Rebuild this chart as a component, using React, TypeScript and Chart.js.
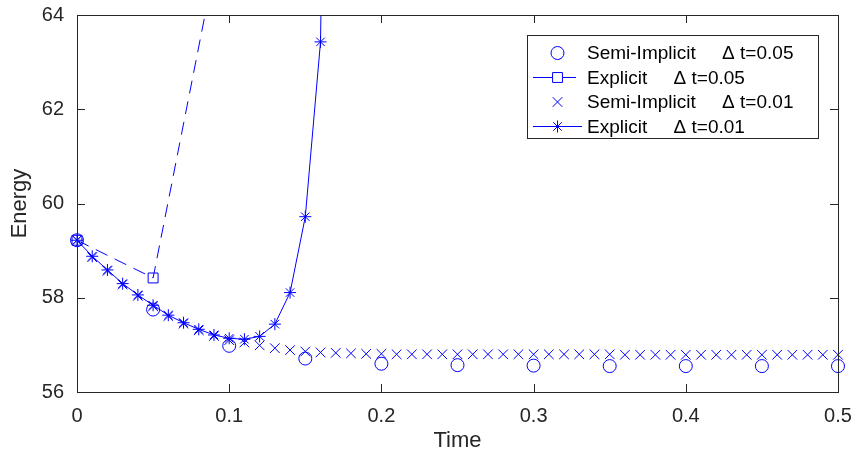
import React, { useEffect, useRef } from "react";
import { Chart, registerables } from "chart.js";
import { drawPoint } from "chart.js/helpers";

Chart.register(...registerables);

// ---- data ----
const tCoarse = [0, 0.05, 0.1, 0.15, 0.2, 0.25, 0.3, 0.35, 0.4, 0.45, 0.5];
const semiImplicitCoarse = [59.22, 57.75, 56.98, 56.71, 56.6, 56.57, 56.56, 56.55, 56.55, 56.55, 56.55];

const tExplicitCoarse = [0, 0.05, 0.1];
const explicitCoarse = [59.22, 58.42, 66.6];

const tFine = [
  0, 0.01, 0.02, 0.03, 0.04, 0.05, 0.06, 0.07, 0.08, 0.09,
  0.1, 0.11, 0.12, 0.13, 0.14, 0.15, 0.16, 0.17, 0.18, 0.19,
  0.2, 0.21, 0.22, 0.23, 0.24, 0.25, 0.26, 0.27, 0.28, 0.29,
  0.3, 0.31, 0.32, 0.33, 0.34, 0.35, 0.36, 0.37, 0.38, 0.39,
  0.4, 0.41, 0.42, 0.43, 0.44, 0.45, 0.46, 0.47, 0.48, 0.49, 0.5,
];
const semiImplicitFine = [
  59.22, 58.86, 58.57, 58.28, 58.04, 57.82, 57.61, 57.45, 57.31, 57.19,
  57.1, 57.05, 56.99, 56.93, 56.89, 56.86, 56.84, 56.83, 56.82, 56.81,
  56.81, 56.8, 56.8, 56.8, 56.8, 56.8, 56.8, 56.8, 56.8, 56.8,
  56.8, 56.8, 56.8, 56.8, 56.8, 56.8, 56.79, 56.79, 56.79, 56.79,
  56.79, 56.79, 56.79, 56.79, 56.79, 56.79, 56.79, 56.79, 56.79, 56.79, 56.79,
];

const tExplicitFine = [0, 0.01, 0.02, 0.03, 0.04, 0.05, 0.06, 0.07, 0.08, 0.09, 0.1, 0.11, 0.12, 0.13, 0.14, 0.15, 0.16, 0.17];
const explicitFine = [59.22, 58.88, 58.59, 58.3, 58.06, 57.84, 57.63, 57.47, 57.33, 57.21, 57.14, 57.12, 57.18, 57.44, 58.11, 59.72, 63.43, 85];

const legendLabels = [
  "Semi-Implicit     \u0394 t=0.05",
  "Explicit     \u0394 t=0.05",
  "Semi-Implicit     \u0394 t=0.01",
  "Explicit     \u0394 t=0.01",
];

const BLUE = "#0000ff";
const AXIS = "#262626";
const FONT = "'Liberation Sans', Arial, Helvetica, sans-serif";

const pts = (xs: number[], ys: number[]) => xs.map((x, i) => ({ x, y: ys[i] }));

const matlabPlugin = {
  id: "matlabAxes",
  afterDraw(chart: any) {
    const ctx = chart.ctx as CanvasRenderingContext2D;
    const { left, right, top, bottom } = chart.chartArea;
    const xs = chart.scales.x;
    const ys = chart.scales.y;
    ctx.save();
    ctx.strokeStyle = AXIS;
    ctx.lineWidth = 1;
    ctx.setLineDash([]);
    ctx.strokeRect(left + 0.5, top + 0.5, right - left, bottom - top);
    const tl = 8;
    ctx.beginPath();
    xs.ticks.forEach((t: any) => {
      const px = Math.round(xs.getPixelForValue(t.value)) + 0.5;
      ctx.moveTo(px, bottom);
      ctx.lineTo(px, bottom - tl);
      ctx.moveTo(px, top);
      ctx.lineTo(px, top + tl);
    });
    ys.ticks.forEach((t: any) => {
      const py = Math.round(ys.getPixelForValue(t.value)) + 0.5;
      ctx.moveTo(left, py);
      ctx.lineTo(left + tl, py);
      ctx.moveTo(right, py);
      ctx.lineTo(right - tl, py);
    });
    ctx.stroke();

    // legend
    const bx = 527, by = 35, bw = 291, bh = 103;
    ctx.fillStyle = "#ffffff";
    ctx.fillRect(bx, by, bw, bh);
    ctx.strokeStyle = AXIS;
    ctx.strokeRect(bx + 0.5, by + 0.5, bw, bh);
    const rows = [53, 77.5, 102, 126.5];
    const styles = [
      { style: "circle", r: 6.5, line: null },
      { style: "rect", r: 7, line: [20, 10] },
      { style: "crossRot", r: 6.8, line: null },
      { style: "star", r: 6, line: [] },
    ];
    styles.forEach((s, i) => {
      const y = rows[i];
      ctx.strokeStyle = BLUE;
      ctx.lineWidth = 1;
      if (s.line) {
        ctx.setLineDash(s.line as number[]);
        ctx.beginPath();
        ctx.moveTo(533, y);
        ctx.lineTo(s.style === "rect" ? 576 : 582, y);
        ctx.stroke();
        ctx.setLineDash([]);
      }
      ctx.fillStyle = "rgba(0,0,0,0)";
      drawPoint(ctx, { pointStyle: s.style, radius: s.r, rotation: 0, borderWidth: 1 } as any, 557.5, y);
      ctx.fillStyle = "#000000";
      ctx.font = `19px ${FONT}`;
      ctx.textBaseline = "middle";
      ctx.textAlign = "left";
      ctx.fillText(legendLabels[i], 587, y + 1);
    });
    ctx.restore();
  },
};

export default function App() {
  const ref = useRef<HTMLCanvasElement | null>(null);
  useEffect(() => {
    if (!ref.current) return;
    const common = {
      borderColor: BLUE,
      pointBorderColor: BLUE,
      backgroundColor: "rgba(0,0,0,0)",
      pointBackgroundColor: "rgba(0,0,0,0)",
      borderWidth: 1,
      pointBorderWidth: 1,
      tension: 0,
      clip: { left: 12, right: 12, top: 0, bottom: 12 },
    };
    const chart = new Chart(ref.current, {
      type: "scatter",
      data: {
        datasets: [
          {
            ...common,
            label: legendLabels[0],
            data: pts(tCoarse, semiImplicitCoarse),
            showLine: false,
            pointStyle: "circle",
            pointRadius: 6.5,
          },
          {
            ...common,
            label: legendLabels[1],
            data: pts(tExplicitCoarse, explicitCoarse),
            showLine: true,
            borderDash: [13, 8],
            pointStyle: "rect",
            pointRadius: 7,
          },
          {
            ...common,
            label: legendLabels[2],
            data: pts(tFine, semiImplicitFine),
            showLine: false,
            pointStyle: "crossRot",
            pointRadius: 6.8,
          },
          {
            ...common,
            label: legendLabels[3],
            data: pts(tExplicitFine, explicitFine),
            showLine: true,
            pointStyle: "star",
            pointRadius: 6,
          },
        ],
      } as any,
      options: {
        responsive: false,
        animation: false,
        devicePixelRatio: 1,
        layout: { padding: { top: 15, right: 13, left: 0, bottom: 0 } },
        plugins: { legend: { display: false }, tooltip: { enabled: false } },
        elements: { point: { hoverRadius: 6 } },
        scales: {
          x: {
            type: "linear",
            min: 0,
            max: 0.5,
            grid: { display: false, drawTicks: false },
            border: { display: false },
            ticks: {
              stepSize: 0.1,
              padding: 12,
              color: AXIS,
              font: { family: FONT, size: 20 },
              maxRotation: 0,
              callback: (v: any) => (Number(v) === 0 ? "0" : Number(v).toFixed(1)),
            },
            title: {
              display: true,
              text: "Time",
              color: AXIS,
              font: { family: FONT, size: 22 },
              padding: { top: 0, bottom: 1 },
            },
            afterFit: (s: any) => {
              s.height = 63;
              s.paddingLeft = 0;
              s.paddingRight = 0;
            },
          },
          y: {
            type: "linear",
            min: 56,
            max: 64,
            grid: { display: false, drawTicks: false },
            border: { display: false },
            ticks: {
              stepSize: 2,
              padding: 13,
              color: AXIS,
              font: { family: FONT, size: 20 },
              callback: (v: any) => String(v),
            },
            title: {
              display: true,
              text: "Energy",
              color: AXIS,
              font: { family: FONT, size: 22 },
              padding: { top: 7, bottom: 0 },
            },
            afterFit: (s: any) => {
              s.width = 77;
              s.paddingTop = 0;
              s.paddingBottom = 0;
            },
          },
        },
      } as any,
      plugins: [matlabPlugin],
    });
    return () => chart.destroy();
  }, []);
  return (
    <div style={{ position: "fixed", left: 0, top: 0, width: 851, height: 455, background: "#fff" }}>
      <canvas ref={ref} width={851} height={455} style={{ display: "block" }} />
    </div>
  );
}
